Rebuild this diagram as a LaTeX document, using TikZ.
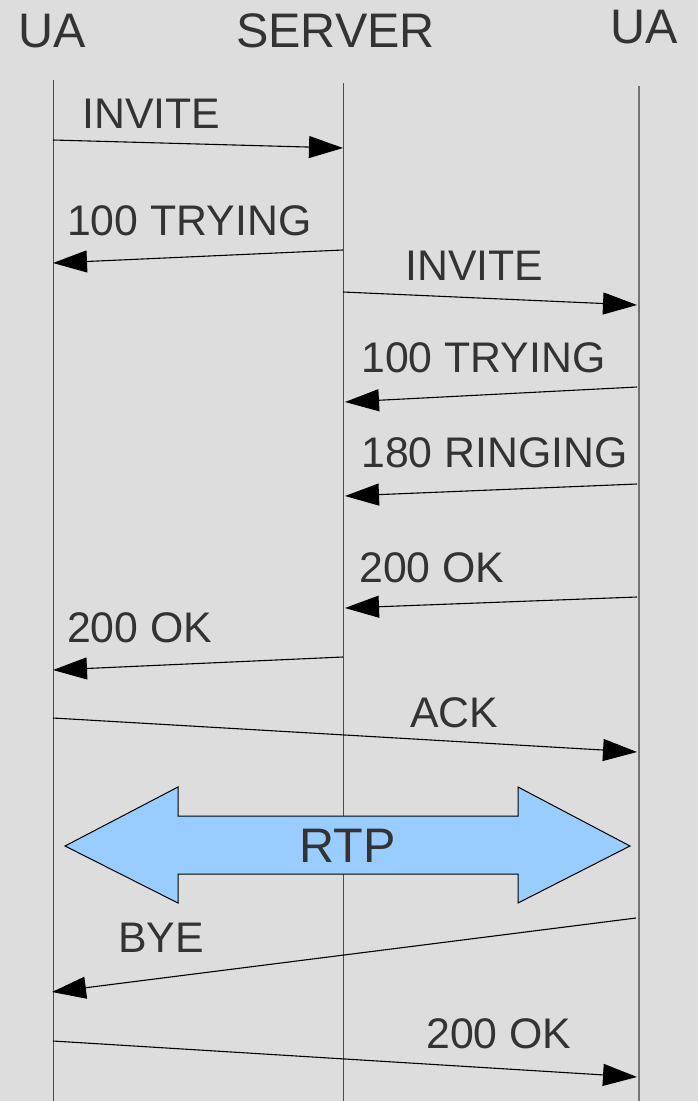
\documentclass[tikz,border=0pt]{standalone}
\usepackage{fontspec}
\setmainfont{Liberation Sans}
\usetikzlibrary{arrows.meta}
\definecolor{bg}{RGB}{221,221,221}
\definecolor{txt}{RGB}{51,51,51}
\definecolor{rtpblue}{RGB}{153,204,255}
\begin{document}
\begin{tikzpicture}[x=1pt,y=-1pt]
        \tikzstyle{head}=[txt,inner sep=0,anchor=base,font=\fontsize{48.5}{58}\selectfont]
        \tikzstyle{msglabel}=[txt,inner sep=0,anchor=base west,font=\fontsize{42.8}{51}\selectfont]
        \tikzstyle{lifeline}=[draw=black!70,line width=1pt]
        \tikzstyle{msg}=[draw=black,line width=1.1pt,-{Triangle[length=34pt,width=22pt]}]

        \fill[bg] (0,0) rectangle (698,1101);
        \useasboundingbox (0,0) rectangle (698,1101);

        % participants
        \node[head](ua1) at (52.5,47){UA};
        \node[head](server) at (335.5,47){SERVER};
        \node[head](ua2) at (644.5,43){UA};

        % lifelines
        \coordinate (ua1top) at (53,80);
        \coordinate (ua1bot) at (53,1101);
        \coordinate (srvtop) at (343,83);
        \coordinate (srvbot) at (343,1101);
        \coordinate (ua2top) at (638.5,86);
        \coordinate (ua2bot) at (638.5,1101);
        \draw[lifeline] (ua1top) -- (ua1bot);
        \draw[lifeline] (srvtop) -- (srvbot);
        \draw[lifeline,draw=black!55,line width=2pt] (ua2top) -- (ua2bot);

        % messages
        \foreach \n/\xa/\ya/\xb/\yb in {1/53/140/343/148, 2/343/250/53/263, 3/343/292/637/305,
                4/637/387/345/402, 5/637/484/345/496, 6/637/597/345/608, 7/343/657/53/670,
                8/53/718/637/752, 9/636/918/52/992, 10/53/1041/637/1077}{
        \coordinate (m\n a) at (\xa,\ya);
        \coordinate (m\n b) at (\xb,\yb);
        \draw[msg] (m\n a) -- (m\n b);
        }

        \node[msglabel](invite1) at (82,128){INVITE};
        \node[msglabel](trying1) at (67,235){100 TRYING};
        \node[msglabel](invite2) at (405,280){INVITE};
        \node[msglabel](trying2) at (361,372){100 TRYING};
        \node[msglabel](ringing) at (361,467){180 RINGING};
        \node[msglabel](ok1) at (359,582){200 OK};
        \node[msglabel](ok2) at (67,642){200 OK};
        \node[msglabel](ack) at (410,727){ACK};
        \node[msglabel](bye) at (118,952){BYE};
        \node[msglabel](ok3) at (426,1048){200 OK};

        % media stream
        \draw[fill=rtpblue,line width=1pt] (65,846) -- (178,787) -- (178,816) -- (518,816) -- (518,787)
        -- (630,846) -- (518,903) -- (518,874) -- (178,874) -- (178,903) -- cycle;
        \node[head](rtp) at (347.5,862){RTP};
    \end{tikzpicture}
\end{document}
